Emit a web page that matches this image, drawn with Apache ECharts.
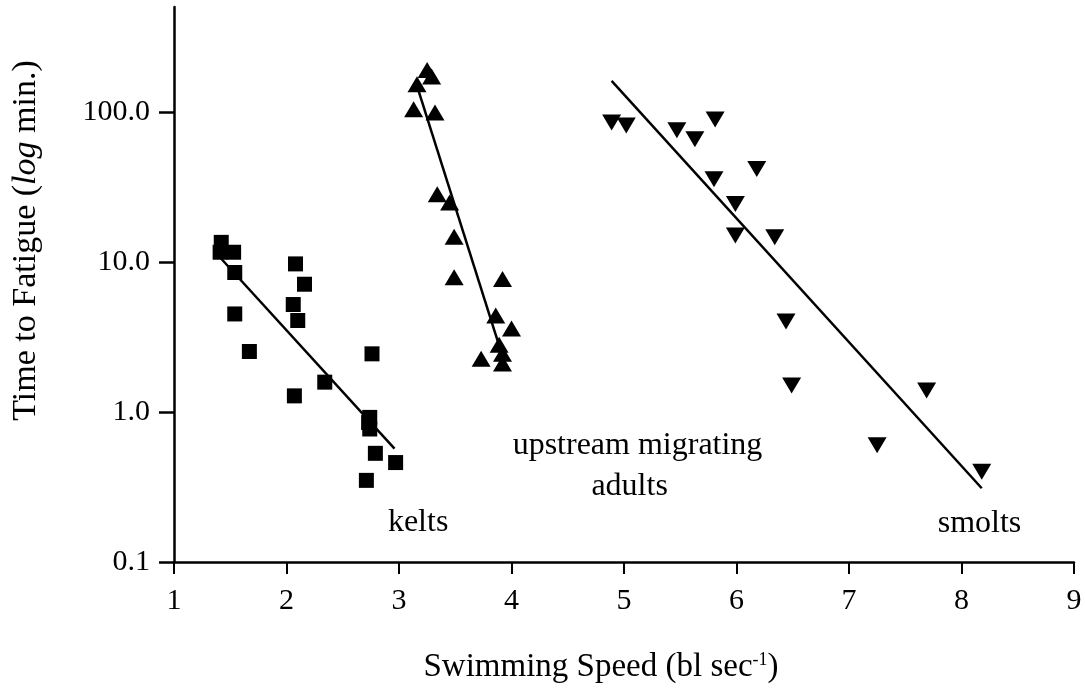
<!DOCTYPE html>
<html>
<head>
<meta charset="utf-8">
<script src="https://cdn.jsdelivr.net/npm/echarts@6/dist/echarts.min.js"></script>
<style>html,body{margin:0;padding:0;background:#fff}#c{width:1085px;height:700px}</style>
</head>
<body>
<div id="c"></div>
<script>
// Kelts (squares): [speed bl/s, time min]
var keltsData = [[1.42,13.5],[1.41,11.6],[1.53,11.6],[1.54,8.5],[1.54,4.5],[1.67,2.53],[2.08,9.7],[2.16,7.1],[2.06,5.2],[2.10,4.07],[2.07,1.28],[2.34,1.58],[2.76,2.44],[2.74,0.92],[2.74,0.77],[2.73,0.85],[2.79,0.53],[2.97,0.46],[2.71,0.35]];
var keltsFit = [[1.42,10.5],[2.96,0.57]];
// Upstream migrating adults (triangles up)
var adultsData = [[3.25,190],[3.29,172],[3.16,153],[3.13,104],[3.32,99],[3.34,28.3],[3.45,24.9],[3.49,14.7],[3.49,7.9],[3.92,7.7],[3.86,4.4],[4.0,3.6],[3.89,2.8],[3.92,2.44],[3.73,2.26],[3.92,2.1]];
var adultsFit = [[3.16,149],[3.95,2.0]];
// Smolts (triangles down)
var smoltsData = [[4.89,85],[5.02,81],[5.47,75.5],[5.63,65.7],[5.81,89],[5.80,35.6],[6.18,41.6],[5.99,24.3],[5.99,15],[6.34,14.6],[6.44,4.0],[6.49,1.5],[7.69,1.39],[7.25,0.6],[8.18,0.4]];
var smoltsFit = [[4.89,161],[8.18,0.31]];
// Annotations
var labelsData = [
  {value:[3.17,0.184], text:'kelts'},
  {value:[5.12,0.60], text:'upstream migrating'},
  {value:[5.05,0.32], text:'adults'},
  {value:[8.16,0.18], text:'smolts'}
];
var xTicks = [1,2,3,4,5,6,7,8,9];
var yTicks = [0.1,1,10,100];

var FONT = 'Liberation Serif';
var chart = echarts.init(document.getElementById('c'));
var lineStyle = {color:'#000', width:2.5};
chart.setOption({
  animation:false,
  backgroundColor:'#fff',
  textStyle:{fontFamily:FONT, color:'#000'},
  grid:{left:174, right:11, top:7, bottom:138},
  xAxis:{
    type:'value', min:1, max:9, interval:1,
    axisLine:{lineStyle:{color:'#000', width:2.5}},
    axisTick:{length:12, lineStyle:{color:'#000', width:2}},
    splitLine:{show:false},
    axisLabel:{fontFamily:FONT, fontSize:30, color:'#000', margin:24},
    name:'Swimming Speed (bl sec{sup|-1})',
    nameLocation:'middle', nameGap:89,
    nameTextStyle:{fontFamily:FONT, fontSize:33, color:'#000', padding:[0,46,0,0],
      rich:{sup:{fontFamily:FONT, fontSize:18, color:'#000', verticalAlign:'top', lineHeight:20}}}
  },
  yAxis:{
    type:'log', logBase:10, min:0.1, max:500,
    axisLine:{show:true, lineStyle:{color:'#000', width:2.5}},
    axisTick:{show:true, length:15, lineStyle:{color:'#000', width:2.5}},
    minorTick:{show:false},
    splitLine:{show:false},
    axisLabel:{fontFamily:FONT, fontSize:30, color:'#000', margin:24, showMaxLabel:false,
      formatter:function(v){ return yTicks.indexOf(+v.toPrecision(6))>=0 ? v.toFixed(1) : ''; }},
    name:'Time to Fatigue ({i|log} min.)',
    nameLocation:'middle', nameGap:131, nameRotate:90,
    nameTextStyle:{fontFamily:FONT, fontSize:34, color:'#000', padding:[0,0,0,88],
      rich:{i:{fontFamily:FONT, fontSize:34, fontStyle:'italic', color:'#000'}}}
  },
  series:[
    {type:'scatter', data:keltsData, symbol:'rect', symbolSize:15, itemStyle:{color:'#000', opacity:1}},
    {type:'scatter', data:adultsData, symbol:'triangle', symbolSize:[19,16], itemStyle:{color:'#000', opacity:1}},
    {type:'scatter', data:smoltsData, symbol:'triangle', symbolRotate:180, symbolSize:[19,16], itemStyle:{color:'#000', opacity:1}},
    {type:'line', data:keltsFit, symbol:'none', lineStyle:lineStyle},
    {type:'line', data:adultsFit, symbol:'none', lineStyle:lineStyle},
    {type:'line', data:smoltsFit, symbol:'none', lineStyle:lineStyle},
    {type:'scatter', symbolSize:0, silent:true, itemStyle:{opacity:1},
      data:labelsData.map(function(d){
        return {value:d.value, label:{show:true, formatter:d.text, position:'inside', align:'center',
          verticalAlign:'middle', fontFamily:FONT, fontSize:32, color:'#000', opacity:1}};
      })
    }
  ]
});
</script>
</body>
</html>
